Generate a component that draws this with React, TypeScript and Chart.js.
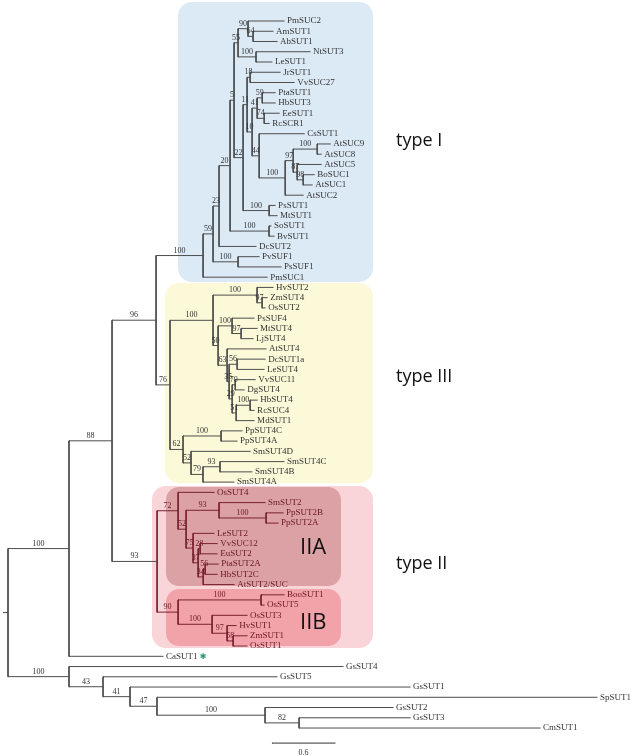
import React, { useEffect, useRef } from "react";
import { Chart, registerables } from "chart.js";

Chart.register(...registerables);

// ---------------- DATA ----------------
// Terminal taxa, top to bottom, with the clade they hang from and their branch length (subst./site)
const taxa = [
  "PmSUC2", "AmSUT1", "AbSUT1", "NtSUT3", "LeSUT1", "JrSUT1", "VvSUC27", "PtaSUT1", "HbSUT3", "EeSUT1",
  "RcSCR1", "CsSUT1", "AtSUC9", "AtSUC8", "AtSUC5", "BoSUC1", "AtSUC1", "AtSUC2", "PsSUT1", "MtSUT1",
  "SoSUT1", "BvSUT1", "DcSUT2", "PvSUF1", "PsSUF1", "PmSUC1",
  "HvSUT2", "ZmSUT4", "OsSUT2", "PsSUF4", "MtSUT4", "LjSUT4", "AtSUT4", "DcSUT1a", "LeSUT4", "VvSUC11",
  "DgSUT4", "HbSUT4", "RcSUC4", "MdSUT1", "PpSUT4C", "PpSUT4A", "SmSUT4D", "SmSUT4C", "SmSUT4B", "SmSUT4A",
  "OsSUT4", "SmSUT2", "PpSUT2B", "PpSUT2A", "LeSUT2", "VvSUC12", "EuSUT2", "PtaSUT2A", "HbSUT2C", "AtSUT2/SUC",
  "BooSUT1", "OsSUT5", "OsSUT3", "HvSUT1", "ZmSUT1", "OsSUT1",
  "CaSUT1",
  "GsSUT4", "GsSUT5", "GsSUT1", "SpSUT1", "GsSUT2", "GsSUT3", "CmSUT1",
];
const taxonParent = [
  "I90", "I64", "I64", "INtLe", "INtLe", "I18", "I18", "IPtaHb", "IPtaHb", "I74",
  "I74", "I44", "IAt98", "IAt98", "I87", "I98", "I98", "IAt", "IPsMt", "IPsMt",
  "ISoBv", "ISoBv", "I23", "IPv", "IPv", "I",
  "IIIHv", "III97a", "III97a", "IIIPs", "III97b", "III97b", "III63", "III56", "III56", "III70",
  "III70", "IIIHb", "IIIHb", "III51", "IIIPp", "IIIPp", "III52", "III93", "III93", "III79",
  "II72", "II93", "IIPp", "IIPp", "II75", "II28", "II28", "II56", "II56", "II34",
  "IIBoo", "IIBoo", "IIOs3", "II97", "II58", "II58",
  "A",
  "OUT", "O43", "O41", "O47", "O100", "O82", "O82",
];
const taxonLength = [
  0.343, 0.19, 0.229, 0.514, 0.152, 0.286, 0.419, 0.124, 0.124, 0.143,
  0.048, 0.429, 0.124, 0.038, 0.229, 0.105, 0.086, 0.171, 0.057, 0.076,
  0.019, 0.048, 0.352, 0.2, 0.41, 0.61,
  0.152, 0.048, 0.029, 0.21, 0.152, 0.114, 0.371, 0.267, 0.257, 0.19,
  0.086, 0.067, 0.038, 0.171, 0.2, 0.152, 0.562, 0.61, 0.305, 0.295,
  0.343, 0.438, 0.162, 0.114, 0.2, 0.162, 0.162, 0.124, 0.114, 0.295,
  0.219, 0.029, 0.333, 0.086, 0.133, 0.133,
  0.895,
  2.61, 1.657, 2.667, 4.19, 1.219, 1.057, 2.295,
];

// Internal clades: parent, branch length and bootstrap support
const cladeIds = [
  "root", "A", "OUT", "N88", "N96", "II", "I", "III",
  "I59", "I23", "I20", "I5", "I55", "I90", "I64", "INtLe", "I22", "I11", "I18", "I10",
  "I41", "IPtaHb", "I74", "I44", "IAt", "I97", "IAt98", "I87", "I98", "IPsMt", "ISoBv", "IPv",
  "III100", "IIIHv", "III97a", "III50", "IIIPs", "III97b", "III63", "III35", "III56", "III29",
  "III70", "III51", "IIIHb", "III62", "IIIPp", "III52", "III79", "III93",
  "II72", "II52", "II93", "IIPp", "II75", "II37", "II28", "II34", "II56", "II90", "IIBoo", "IIOs3", "II97", "II58",
  "O43", "O41", "O47", "O100", "O82",
];
const cladeParent = [
  null, "root", "root", "A", "N88", "N88", "N96", "N96",
  "I", "I59", "I23", "I20", "I5", "I55", "I90", "I55", "I5", "I22", "I11", "I11",
  "I10", "I41", "I41", "I10", "I44", "IAt", "I97", "I97", "I87", "I22", "I20", "I59",
  "III", "III100", "IIIHv", "III100", "III50", "IIIPs", "III50", "III63", "III35", "III35",
  "III29", "III29", "III51", "III", "III62", "III62", "III52", "III79",
  "II", "II72", "II52", "II93", "II52", "II75", "II37", "II37", "II34", "II", "II90", "II90", "IIOs3", "II97",
  "OUT", "O43", "O41", "O47", "O100",
];
const cladeLength = [
  0, 0.581, 0.581, 0.41, 0.419, 0.429, 0.448, 0.133,
  0.095, 0.057, 0.105, 0.038, 0.038, 0.095, 0.048, 0.171, 0.086, 0.038, 0.029, 0.048,
  0.048, 0.048, 0.067, 0.067, 0.248, 0.076, 0.229, 0.038, 0.057, 0.248, 0.371, 0.238,
  0.41, 0.419, 0.048, 0.048, 0.133, 0.086, 0.086, 0.019, 0.076, 0.029,
  0.029, 0.038, 0.133, 0.124, 0.362, 0.076, 0.114, 0.162,
  0.2, 0.076, 0.314, 0.448, 0.067, 0.048, 0.019, 0.048, 0.019, 0.2, 0.79, 0.324, 0.143, 0.057,
  0.324, 0.257, 0.257, 1.029, 0.324,
];
const cladeSupport = [
  null, 100, 100, 88, 96, 93, 100, 76,
  59, 23, 20, 5, 55, 90, 64, 100, 22, 11, 18, 10,
  41, 59, 74, 44, 100, 97, 100, 87, 98, 100, 100, 100,
  100, 100, 97, 50, 100, 97, 63, 35, 56, 29,
  70, 51, 100, 62, 100, 52, 79, 93,
  72, 52, 93, 100, 75, 37, 28, 34, 56, 90, 100, 100, 97, 58,
  43, 41, 47, 100, 82,
];

const groupNames = ["type I", "type III", "type II"];
const subgroupNames = ["IIA", "IIB"];
const scaleBarLength = 0.6;
const scaleBarText = "0.6";
const markedTaxon = "CaSUT1";

// ---------------- LAYOUT / STYLE (data units of the scales) ----------------
const TYPE_II_CLADE = "II";
const ROOT_STUB = 0.048;
const X_MIN = -0.0762, X_MAX = 6.019;
const Y_MIN = -2.05, Y_MAX = 71.73;
const SCALE_BAR_X = 2.514, SCALE_BAR_Y = 70.47;
const BOXES = [
  { x0: 1.619, x1: 3.476, y0: -1.854, y1: 25.47, r: 14, fill: "#dceaf6" },
  { x0: 1.495, x1: 3.476, y0: 25.57, y1: 45.1, r: 14, fill: "#fcf9d8" },
  { x0: 1.371, x1: 3.476, y0: 45.38, y1: 61.2, r: 14, fill: "#f9d4d8" },
  { x0: 1.505, x1: 3.171, y0: 45.48, y1: 55.14, r: 13, fill: "#dba1a5" },
  { x0: 1.505, x1: 3.171, y0: 55.44, y1: 61.0, r: 13, fill: "#f2a2a9" },
];
const GROUP_LABEL_POS = [
  { x: 3.695, y: 12.2 },
  { x: 3.695, y: 35.2 },
  { x: 3.695, y: 53.5 },
];
const SUBGROUP_LABEL_POS = [
  { x: 2.781, y: 52.0 },
  { x: 2.781, y: 59.3 },
];
const LINE_BASE = "#4d4d4d";
const LINE_II = "#7a2230";
const TEXT_BASE = "#333333";
const TEXT_II = "#6a1723";
const SERIF = '"Liberation Serif", "DejaVu Serif", serif';
const SANS = '"Open Sans", "Noto Sans", sans-serif';

type TNode = {
  id: string;
  parent: string | null;
  len: number;
  support: number | null;
  name?: string;
  children: TNode[];
  depth: number;
  y: number;
  inII: boolean;
  parentNode?: TNode;
};

function buildTree() {
  const map = new Map<string, TNode>();
  cladeIds.forEach((id, i) =>
    map.set(id, { id, parent: cladeParent[i], len: cladeLength[i], support: cladeSupport[i], children: [], depth: 0, y: 0, inII: false })
  );
  taxa.forEach((name, i) =>
    map.set("leaf:" + i, { id: "leaf:" + i, parent: taxonParent[i], len: taxonLength[i], support: null, name, children: [], depth: 0, y: i, inII: false })
  );
  map.forEach((n) => {
    if (n.parent) {
      const p = map.get(n.parent)!;
      p.children.push(n);
      n.parentNode = p;
    }
  });
  const root = map.get("root")!;
  const walk = (n: TNode, d: number, inII: boolean) => {
    n.depth = d + n.len;
    n.inII = inII || n.id === TYPE_II_CLADE;
    n.children.forEach((c) => walk(c, n.depth, n.inII));
    if (n.children.length) {
      const ys = n.children.map((c) => c.y);
      n.y = (Math.min(...ys) + Math.max(...ys)) / 2;
    }
  };
  walk(root, 0, false);
  return { root, nodes: Array.from(map.values()) };
}

function roundRectPath(ctx: CanvasRenderingContext2D, x: number, y: number, w: number, h: number, r: number) {
  ctx.beginPath();
  ctx.moveTo(x + r, y);
  ctx.lineTo(x + w - r, y);
  ctx.arcTo(x + w, y, x + w, y + r, r);
  ctx.lineTo(x + w, y + h - r);
  ctx.arcTo(x + w, y + h, x + w - r, y + h, r);
  ctx.lineTo(x + r, y + h);
  ctx.arcTo(x, y + h, x, y + h - r, r);
  ctx.lineTo(x, y + r);
  ctx.arcTo(x, y, x + r, y, r);
  ctx.closePath();
}

export default function App() {
  const ref = useRef<HTMLCanvasElement>(null);

  useEffect(() => {
    document.body.style.margin = "0";
    const { root, nodes } = buildTree();

    const basePts: any[] = [];
    const iiPts: any[] = [];
    const seg = (arr: any[], x0: number, y0: number, x1: number, y1: number) => {
      arr.push({ x: x0, y: y0 }, { x: x1, y: y1 }, { x: x1, y: null });
    };
    seg(basePts, -ROOT_STUB, root.y, 0, root.y);
    nodes.forEach((n) => {
      if (n.parentNode) {
        seg(n.parentNode.inII ? iiPts : basePts, n.parentNode.depth, n.y, n.depth, n.y);
      }
      if (n.children.length) {
        const ys = n.children.map((c) => c.y);
        seg(n.inII ? iiPts : basePts, n.depth, Math.min(...ys), n.depth, Math.max(...ys));
      }
    });
    const scalePts = [
      { x: SCALE_BAR_X, y: SCALE_BAR_Y },
      { x: SCALE_BAR_X + scaleBarLength, y: SCALE_BAR_Y },
    ];

    const decor = {
      id: "treeDecor",
      beforeDatasetsDraw(chart: any) {
        const { ctx } = chart;
        const xs = chart.scales.x, ys = chart.scales.y;
        ctx.save();
        BOXES.forEach((b) => {
          const x0 = xs.getPixelForValue(b.x0), x1 = xs.getPixelForValue(b.x1);
          const y0 = ys.getPixelForValue(b.y0), y1 = ys.getPixelForValue(b.y1);
          roundRectPath(ctx, x0, y0, x1 - x0, y1 - y0, b.r);
          ctx.fillStyle = b.fill;
          ctx.fill();
        });
        ctx.restore();
      },
      afterDatasetsDraw(chart: any) {
        const { ctx } = chart;
        const xs = chart.scales.x, ys = chart.scales.y;
        ctx.save();
        // leaf names
        ctx.font = `9px ${SERIF}`;
        ctx.textBaseline = "middle";
        ctx.textAlign = "left";
        nodes.forEach((n) => {
          if (!n.name) return;
          const px = xs.getPixelForValue(n.depth) + 3;
          const py = ys.getPixelForValue(n.y);
          ctx.fillStyle = n.inII ? TEXT_II : TEXT_BASE;
          ctx.fillText(n.name, px, py);
          if (n.name === markedTaxon) {
            const w = ctx.measureText(n.name + " ").width;
            ctx.save();
            ctx.font = `bold 8px "DejaVu Sans", sans-serif`;
            ctx.fillStyle = "#2e9a6c";
            ctx.fillText("\u2731", px + w, py + 0.5);
            ctx.restore();
          }
        });
        // bootstrap values
        ctx.font = `8px ${SERIF}`;
        ctx.textAlign = "center";
        ctx.textBaseline = "alphabetic";
        nodes.forEach((n) => {
          if (n.support == null || !n.parentNode) return;
          const cx = (xs.getPixelForValue(n.parentNode.depth) + xs.getPixelForValue(n.depth)) / 2;
          const py = ys.getPixelForValue(n.y) - 3;
          ctx.fillStyle = n.parentNode.inII ? TEXT_II : TEXT_BASE;
          ctx.fillText(String(n.support), cx, py);
        });
        // scale bar text
        ctx.fillStyle = TEXT_BASE;
        ctx.textBaseline = "middle";
        ctx.fillText(
          scaleBarText,
          xs.getPixelForValue(SCALE_BAR_X + scaleBarLength / 2),
          ys.getPixelForValue(SCALE_BAR_Y) + 10
        );
        // group labels
        ctx.textAlign = "left";
        ctx.textBaseline = "alphabetic";
        ctx.fillStyle = "#111111";
        ctx.font = `18px ${SANS}`;
        groupNames.forEach((t, i) => {
          ctx.fillText(t, xs.getPixelForValue(GROUP_LABEL_POS[i].x), ys.getPixelForValue(GROUP_LABEL_POS[i].y));
        });
        ctx.font = `22px ${SANS}`;
        subgroupNames.forEach((t, i) => {
          ctx.fillText(t, xs.getPixelForValue(SUBGROUP_LABEL_POS[i].x), ys.getPixelForValue(SUBGROUP_LABEL_POS[i].y));
        });
        ctx.restore();
      },
    };

    const lineDs = (data: any[], color: string) => ({
      data,
      showLine: true,
      borderColor: color,
      borderWidth: 1,
      borderCapStyle: "square",
      pointRadius: 0,
      pointHoverRadius: 0,
      spanGaps: false,
      tension: 0,
    });

    const chart = new Chart(ref.current!, {
      type: "scatter",
      data: {
        datasets: [lineDs(basePts, LINE_BASE), lineDs(iiPts, LINE_II), lineDs(scalePts, "#333333")] as any,
      },
      options: {
        responsive: false,
        animation: false,
        events: [],
        layout: { padding: 0 },
        plugins: { legend: { display: false }, tooltip: { enabled: false }, title: { display: false } },
        scales: {
          x: { type: "linear", min: X_MIN, max: X_MAX, display: false },
          y: { type: "linear", min: Y_MIN, max: Y_MAX, reverse: true, display: false },
        },
      },
      plugins: [decor],
    } as any);
    return () => chart.destroy();
  }, []);

  return (
    <div style={{ width: 640, height: 756 }}>
      <canvas ref={ref} width={640} height={756} style={{ display: "block" }} />
    </div>
  );
}
